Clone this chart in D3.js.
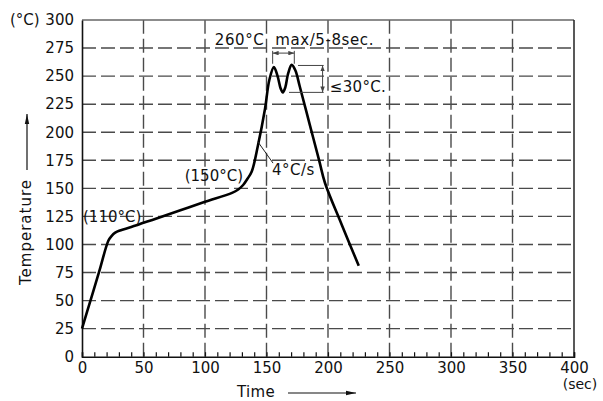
<!DOCTYPE html>
<html>
<head>
<meta charset="utf-8">
<script src="https://cdn.jsdelivr.net/npm/d3@7"></script>
<style>
  html, body { margin: 0; padding: 0; background: #fff; }
  svg { display: block; }
  text { font-family: "DejaVu Sans", sans-serif; fill: #111; }
</style>
</head>
<body>
<svg id="chart" width="603" height="401"></svg>
<script>
// ---- data ----
const timeSec = [0, 7, 14, 21.5, 24, 27, 31, 40, 60, 80, 100, 122, 127, 131, 134.5, 138, 143, 148.8, 152.3, 156, 159, 161.5, 163.3, 165.3, 167.5, 170.5, 173.5, 177, 185, 193, 197.5, 211, 225];
const tempC   = [25, 50.5, 76, 103.5, 107.5, 110.5, 112.5, 115.5, 123, 130.5, 138, 146, 149, 153, 158.5, 165, 188, 221, 246.5, 258, 250, 239, 235.5, 240, 252, 260, 255, 241, 207.5, 174, 155, 118, 81];
const xTicks = [0, 50, 100, 150, 200, 250, 300, 350, 400];
const yTicks = [0, 25, 50, 75, 100, 125, 150, 175, 200, 225, 250, 275, 300];
const xMinorStep = 10;
const xMax = 400, yMax = 300;

const svg = d3.select("#chart");
const x = d3.scaleLinear().domain([0, xMax]).range([82, 574]);
const y = d3.scaleLinear().domain([0, yMax]).range([356.7, 20]);

// ---- grid ----
const grid = svg.append("g").attr("stroke", "#4a4a4a").attr("stroke-width", 1.4)
  .attr("stroke-dasharray", "14,5").attr("fill", "none");
grid.selectAll("line.v").data(xTicks.filter(d => d > 0 && d < xMax)).join("line")
  .attr("class", "v")
  .attr("x1", d => x(d)).attr("x2", d => x(d))
  .attr("y1", y(0)).attr("y2", y(yMax));
grid.selectAll("line.h").data(yTicks.filter(d => d > 0 && d < yMax)).join("line")
  .attr("class", "h")
  .attr("x1", x(0)).attr("x2", x(xMax))
  .attr("y1", d => y(d)).attr("y2", d => y(d));

// ---- frame ----
svg.append("line").attr("x1", x(0)).attr("x2", x(xMax)).attr("y1", y(yMax)).attr("y2", y(yMax))
  .attr("stroke", "#666").attr("stroke-width", 1.4);
svg.append("line").attr("x1", x(xMax)).attr("x2", x(xMax)).attr("y1", y(0)).attr("y2", y(yMax))
  .attr("stroke", "#222").attr("stroke-width", 1.5);

// ---- x axis: minor ticks ----
const minor = d3.range(0, xMax + 1, xMinorStep);
svg.append("g").attr("transform", `translate(0,${y(0)})`)
  .call(d3.axisBottom(x).tickValues(minor).tickSize(-4.5).tickFormat(""))
  .call(g => g.selectAll("line").attr("stroke", "#111").attr("stroke-width", 1.2))
  .call(g => g.select(".domain").attr("stroke", "#111").attr("stroke-width", 1.6));

// ---- x axis labels ----
svg.append("g").attr("transform", `translate(0,${y(0)})`)
  .call(d3.axisBottom(x).tickValues(xTicks).tickSize(0).tickPadding(6).tickFormat(d3.format("d")))
  .call(g => g.select(".domain").remove())
  .call(g => g.selectAll("text").attr("font-size", 15).attr("font-family", "DejaVu Sans, sans-serif").attr("fill", "#111"));

svg.append("text").attr("x", x(xMax) + 6).attr("y", y(0) + 32)
  .attr("text-anchor", "middle").attr("font-size", 14).text("(sec)");

// ---- y axis ----
svg.append("g").attr("transform", `translate(${x(0)},0)`)
  .call(d3.axisLeft(y).tickValues(yTicks).tickSize(0).tickPadding(8).tickFormat(d3.format("d")))
  .call(g => g.select(".domain").attr("stroke", "#111").attr("stroke-width", 1.6))
  .call(g => g.selectAll("text").attr("font-size", 15).attr("font-family", "DejaVu Sans, sans-serif").attr("fill", "#111"));

svg.append("text").attr("x", 10).attr("y", 25).attr("font-size", 15).text("(°C)");

// ---- axis titles with arrows ----
const defs = svg.append("defs");
defs.append("marker").attr("id", "ah").attr("viewBox", "0 0 10 6").attr("refX", 10).attr("refY", 3)
  .attr("markerWidth", 10).attr("markerHeight", 6).attr("markerUnits", "userSpaceOnUse").attr("orient", "auto")
  .append("path").attr("d", "M0,0.8 L10,3 L0,5.2 Z").attr("fill", "#111");
defs.append("marker").attr("id", "sa").attr("viewBox", "0 0 8 6").attr("refX", 8).attr("refY", 3)
  .attr("markerWidth", 6).attr("markerHeight", 4.5).attr("markerUnits", "userSpaceOnUse").attr("orient", "auto-start-reverse")
  .append("path").attr("d", "M0,0 L8,3 L0,6 Z").attr("fill", "#444");

svg.append("text").attr("x", 237).attr("y", 397).attr("font-size", 15).attr("letter-spacing", 0.3).text("Time");
svg.append("line").attr("x1", 288).attr("x2", 356).attr("y1", 393).attr("y2", 393)
  .attr("stroke", "#111").attr("stroke-width", 1.2).attr("marker-end", "url(#ah)");

svg.append("text").attr("transform", "translate(31,285) rotate(-90)").attr("font-size", 15)
  .attr("letter-spacing", 1).text("Temperature");
svg.append("line").attr("x1", 27).attr("x2", 27).attr("y1", 170).attr("y2", 114)
  .attr("stroke", "#111").attr("stroke-width", 1.2).attr("marker-end", "url(#ah)");

// ---- profile curve ----
const pts = timeSec.map((t, i) => [t, tempC[i]]);
svg.append("path").datum(pts)
  .attr("fill", "none").attr("stroke", "#000").attr("stroke-width", 2.6).attr("stroke-linejoin", "round")
  .attr("d", d3.line().x(d => x(d[0])).y(d => y(d[1])).curve(d3.curveCatmullRom.alpha(0.5)));

// ---- annotations ----
svg.append("text").attr("x", x(0) + 1).attr("y", y(125) + 6).attr("font-size", 15).text("(110°C)");
svg.append("text").attr("x", x(83.5)).attr("y", y(156.5)).attr("font-size", 15).text("(150°C)");

svg.append("line").attr("x1", x(143)).attr("y1", y(191.5)).attr("x2", x(155.3)).attr("y2", y(172.5))
  .attr("stroke", "#222").attr("stroke-width", 1);
svg.append("text").attr("x", x(154.5)).attr("y", y(161.5)).attr("font-size", 15).attr("letter-spacing", 0.5).text("4°C/s");

svg.append("text").attr("x", x(108)).attr("y", y(277.8)).attr("font-size", 15).attr("letter-spacing", 0.6)
  .attr("xml:space", "preserve").text("260°C  max/5-8sec.");

// time bracket
const br = svg.append("g").attr("stroke", "#444").attr("stroke-width", 1).attr("fill", "none");
[155, 172.6].forEach(t => {
  br.append("line").attr("x1", x(t)).attr("x2", x(t)).attr("y1", y(272.5)).attr("y2", y(261));
});
br.append("line").attr("x1", x(155)).attr("x2", x(172.6)).attr("y1", y(270.5)).attr("y2", y(270.5))
  .attr("marker-start", "url(#sa)").attr("marker-end", "url(#sa)");

// 30°C bracket
br.append("line").attr("x1", x(175.6)).attr("x2", x(196.5)).attr("y1", y(259.5)).attr("y2", y(259.5));
br.append("line").attr("x1", x(168.3)).attr("x2", x(196.5)).attr("y1", y(235.5)).attr("y2", y(235.5));
br.append("line").attr("x1", x(195.6)).attr("x2", x(195.6)).attr("y1", y(259.5)).attr("y2", y(235.5))
  .attr("marker-start", "url(#sa)").attr("marker-end", "url(#sa)");
svg.append("text").attr("x", x(201.5)).attr("y", y(235.5)).attr("font-size", 15).attr("letter-spacing", 0.3).text("≤30°C.");
</script>
</body>
</html>
